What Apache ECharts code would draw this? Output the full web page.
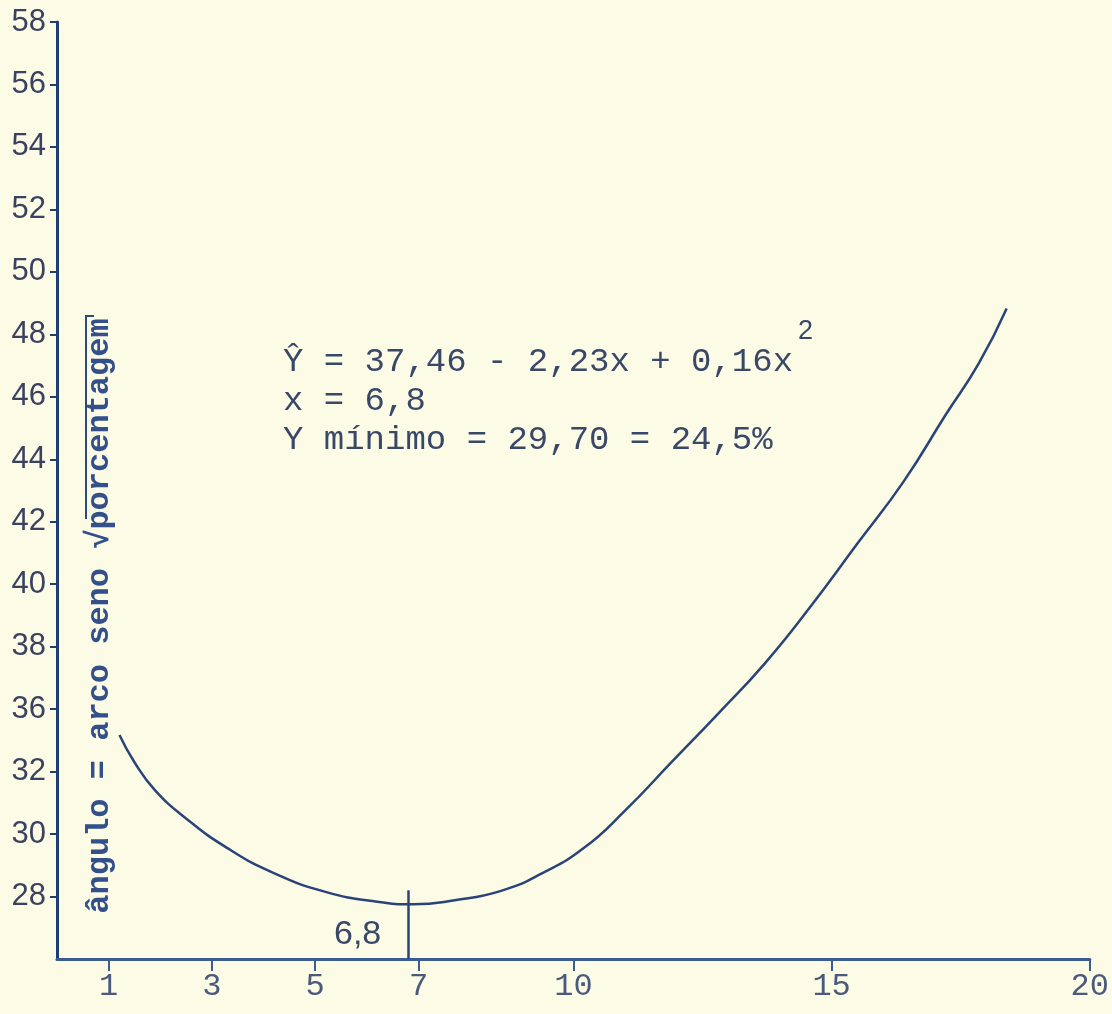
<!DOCTYPE html>
<html>
<head>
<meta charset="utf-8">
<script src="https://cdn.jsdelivr.net/npm/echarts@6/dist/echarts.min.js"></script>
<style>
html,body{margin:0;padding:0;background:#fbfbe6;}
#chart{width:1112px;height:1014px;}
</style>
</head>
<body>
<div id="chart"></div>
<script>
// curve (x = dose, y = angulo)
var xValues = [1.21, 1.5, 1.9, 2.5, 3.3, 4.2, 5.2, 6.2, 6.9, 7.7, 8.6, 9.4, 10.2, 11.0,
               11.9, 12.8, 13.7, 14.6, 15.5, 16.4, 17.2, 17.85, 18.39];
var yValues = [35.17, 34.3, 33.4, 32.5, 31.55, 30.75, 30.15, 29.83, 29.75, 29.88, 30.18, 30.75, 31.55, 32.75,
               34.3, 35.85, 37.45, 39.3, 41.3, 43.3, 45.4, 47.07, 48.83];

var xTickValues = [1, 3, 5, 7, 10, 15, 20];
// the hand lettered scale skips 34, so labels below 36 are shifted
var yTickValues = [30, 32, 34, 36, 38, 40, 42, 44, 46, 48, 50, 52, 54, 56, 58];
var yTickLabels = ['28', '30', '32', '36', '38', '40', '42', '44', '46', '48', '50', '52', '54', '56', '58'];

var xMin = 6.8;
var markTop = 30.2;

var ink = '#2b4478';
var typeInk = '#3a4868';

var curve = [];
for (var i = 0; i < xValues.length; i++) {
    curve.push([xValues[i], yValues[i]]);
}

var myChart = echarts.init(document.getElementById('chart'));
var option = {
    backgroundColor: '#fbfbe6',
    animation: false,
    grid: {left: 57, right: 13, top: 22, bottom: 55},
    xAxis: {
        type: 'value',
        min: 0,
        max: 20,
        splitLine: {show: false},
        axisLine: {show: true, lineStyle: {color: '#3a5c93', width: 3}},
        axisTick: {show: true, customValues: xTickValues, length: 12, lineStyle: {color: '#3a5c93', width: 2}},
        axisLabel: {
            customValues: xTickValues,
            margin: 12,
            color: '#4b5a7c',
            fontFamily: 'Liberation Mono',
            fontSize: 32
        }
    },
    yAxis: {
        type: 'value',
        min: 28,
        max: 58,
        splitLine: {show: false},
        axisLine: {show: true, lineStyle: {color: '#1f3f73', width: 3}},
        axisTick: {show: true, customValues: yTickValues, length: 7, lineStyle: {color: '#1f3f73', width: 2}},
        axisLabel: {
            customValues: yTickValues,
            margin: 11,
            color: '#3a4260',
            fontFamily: 'Liberation Sans',
            fontSize: 31,
            formatter: function (val) {
                return yTickLabels[yTickValues.indexOf(val)];
            }
        }
    },
    series: [{
        type: 'line',
        data: curve,
        smooth: 0.5,
        showSymbol: false,
        lineStyle: {color: ink, width: 2.5},
        markLine: {
            silent: true,
            symbol: 'none',
            label: {show: false},
            lineStyle: {color: ink, width: 2.5, type: 'solid'},
            data: [[{coord: [xMin, 28]}, {coord: [xMin, markTop]}]]
        }
    }],
    graphic: [
        {
            type: 'text', left: 283, top: 345,
            style: {text: 'Ŷ = 37,46 - 2,23x + 0,16x', font: '34px "Liberation Mono"', fill: typeInk}
        },
        {
            type: 'text', left: 798, top: 318,
            style: {text: '2', font: '27px "Liberation Sans"', fill: typeInk}
        },
        {
            type: 'text', left: 283, top: 384,
            style: {text: 'x = 6,8', font: '34px "Liberation Mono"', fill: typeInk}
        },
        {
            type: 'text', left: 283, top: 423,
            style: {text: 'Y mínimo = 29,70 = 24,5%', font: '34px "Liberation Mono"', fill: typeInk}
        },
        {
            type: 'text', left: 334, top: 918,
            style: {text: '6,8', font: '34px "Liberation Sans"', fill: typeInk}
        },
        {
            type: 'group',
            x: 100,
            y: 616,
            rotation: Math.PI / 2,
            children: [
                {
                    type: 'text',
                    style: {
                        text: 'ângulo = arco seno √porcentagem',
                        font: 'bold 32px "Liberation Mono"',
                        fill: '#34508a',
                        align: 'center',
                        verticalAlign: 'middle'
                    }
                },
                {
                    type: 'polyline',
                    shape: {points: [[97, -14], [300, -14], [300, -6]]},
                    style: {stroke: '#2d4a7e', lineWidth: 2, fill: null}
                }
            ]
        }
    ]
};
myChart.setOption(option);
</script>
</body>
</html>
